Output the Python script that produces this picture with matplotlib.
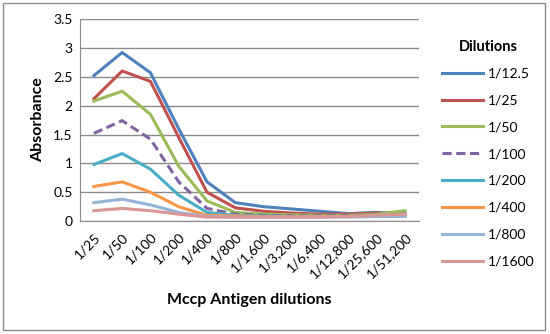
import matplotlib
matplotlib.use("Agg")
import matplotlib.pyplot as plt
from matplotlib.patches import Rectangle

plt.rcParams['font.family'] = ['Lato', 'DejaVu Sans']

categories = ["1/25", "1/50", "1/100", "1/200", "1/400", "1/800", "1/1,600",
              "1/3,200", "1/6,400", "1/12,800", "1/25,600", "1/51,200"]
series_names = ["1/12.5", "1/25", "1/50", "1/100", "1/200", "1/400", "1/800", "1/1600"]
v_12_5 = [2.52, 2.92, 2.57, 1.60, 0.68, 0.32, 0.25, 0.21, 0.17, 0.13, 0.15, 0.13]
v_25 = [2.12, 2.60, 2.42, 1.45, 0.50, 0.23, 0.17, 0.14, 0.12, 0.12, 0.14, 0.12]
v_50 = [2.08, 2.25, 1.85, 0.95, 0.35, 0.15, 0.12, 0.11, 0.10, 0.10, 0.12, 0.18]
v_100 = [1.52, 1.74, 1.42, 0.68, 0.22, 0.12, 0.10, 0.09, 0.09, 0.09, 0.10, 0.10]
v_200 = [0.98, 1.17, 0.90, 0.45, 0.15, 0.10, 0.09, 0.08, 0.08, 0.08, 0.09, 0.09]
v_400 = [0.60, 0.68, 0.50, 0.25, 0.10, 0.09, 0.08, 0.08, 0.08, 0.08, 0.09, 0.09]
v_800 = [0.32, 0.38, 0.28, 0.15, 0.08, 0.07, 0.07, 0.07, 0.07, 0.07, 0.08, 0.08]
v_1600 = [0.18, 0.22, 0.18, 0.12, 0.07, 0.07, 0.07, 0.07, 0.07, 0.08, 0.10, 0.12]
all_values = [v_12_5, v_25, v_50, v_100, v_200, v_400, v_800, v_1600]

colors = ["#4F81BD", "#C0504D", "#9BBB59", "#8064A2", "#4BACC6", "#F79646", "#95B3D7", "#D99694"]
styles = ["-", "-", "-", "--", "-", "-", "-", "-"]

fig = plt.figure(figsize=(5.5, 3.34), dpi=100)
fig.patches.append(Rectangle((0.006, 0.012), 0.984, 0.978, transform=fig.transFigure,
                             fill=False, edgecolor="#8c8c8c", linewidth=1.0))
ax = fig.add_axes([0.145, 0.338, 0.617, 0.605])

x = list(range(len(categories)))
for vals, name, c, ls in zip(all_values, series_names, colors, styles):
    ax.plot(x, vals, color=c, linestyle=ls, linewidth=2.2, label=name,
            dashes=(3, 1.5) if ls == "--" else (None, None))

ax.set_xlim(-0.5, len(categories) - 0.5)
ax.set_ylim(0, 3.5)
ax.set_yticks([0, 0.5, 1, 1.5, 2, 2.5, 3, 3.5])
ax.set_yticklabels(["0", "0.5", "1", "1.5", "2", "2.5", "3", "3.5"])
ax.yaxis.grid(True, color="#8c8c8c", linewidth=1.0)
ax.set_axisbelow(True)
ax.set_xticks(x)
ax.set_xticklabels(categories, rotation=45, ha="right", rotation_mode="anchor")
ax.tick_params(axis="both", labelsize=10, colors="#000000", length=0, pad=5)
ax.tick_params(axis="x", pad=7)
for s in ["top", "right"]:
    ax.spines[s].set_visible(False)
for s in ["left", "bottom"]:
    ax.spines[s].set_color("#8c8c8c")
ax.set_ylabel("Absorbance", fontsize=11.5, fontweight="bold", labelpad=6)
ax.set_xlabel("Mccp Antigen dilutions", fontsize=11.5, fontweight="bold", labelpad=9)

leg = ax.legend(loc="upper left", bbox_to_anchor=(1.03, 0.96), frameon=False,
                title="Dilutions", fontsize=10, handlelength=3.0,
                labelspacing=1.07, handletextpad=0.3)
leg.get_title().set_fontweight("bold")
leg.get_title().set_fontsize(10.5)
leg._legend_box.sep = 10

fig.savefig("out.png", dpi=100)
